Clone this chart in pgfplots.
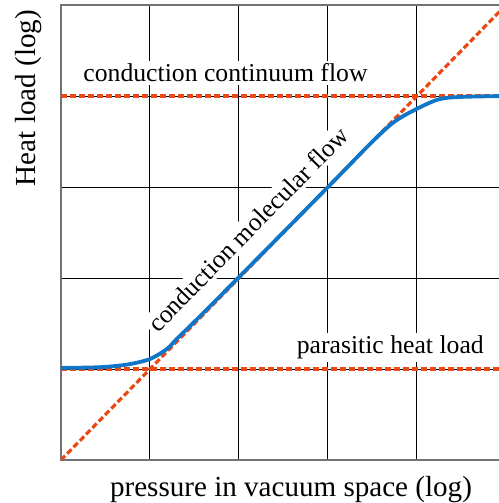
\documentclass[border=0pt]{standalone}
\usepackage{fontspec}
\setmainfont{Liberation Serif}
\usepackage{pgfplots}
\pgfplotsset{compat=1.18}
\definecolor{myorange}{RGB}{235,72,20}
\definecolor{myblue}{RGB}{16,118,200}
\begin{document}
\begin{tikzpicture}[x=1bp,y=1bp]
\begin{axis}[
 at={(30.5bp,21.5bp)}, anchor=south west,
 width=222.5bp, height=227.5bp, scale only axis,
 xmin=0,xmax=5,ymin=0,ymax=5,
 xtick={1,2,3,4}, ytick={1,2,3,4},
 xticklabels={}, yticklabels={},
 major tick length=0pt,
 grid=major, grid style={black, line width=0.5bp},
 axis line style={black!55, line width=0.8bp},
 clip=true,
]
\node[anchor=base, fill=white, inner sep=1.5bp, font=\fontsize{12.9}{15}\selectfont] at (axis cs:1.848,4.154) {conduction continuum flow};
\node[anchor=base, fill=white, inner sep=1.5bp, font=\fontsize{12.9}{15}\selectfont] at (axis cs:3.70,1.165) {parasitic heat load};
\node[anchor=center, fill=white, inner sep=1.5bp, rotate=45.6, font=\fontsize{12.8}{15}\selectfont] at (axis cs:2.10,2.535) {conduction molecular flow};
\addplot[myorange, line width=1.6bp, dash pattern=on 3bp off 1.5bp] coordinates {(0,0) (5,5)};
\addplot[myorange, line width=1.6bp, dash pattern=on 3bp off 1.5bp] coordinates {(0,1) (5,1)};
\addplot[myorange, line width=1.6bp, dash pattern=on 3bp off 1.5bp] coordinates {(0,4) (5,4)};
\addplot[myblue, line width=1.9bp, smooth, tension=0.5] coordinates {
(0,1.012) (0.44,1.02) (0.75,1.05) (1,1.11) (1.19,1.22) (1.3,1.33) (1.5,1.52) (2,2.01) (3,3.0) (3.5,3.5) (3.75,3.72) (4,3.86) (4.25,3.965) (4.5,3.99) (5,4.0)};
\end{axis}
\node[anchor=base, font=\fontsize{14.6}{17}\selectfont] at (145.5bp,3.5bp) {pressure in vacuum space (log)};
\node[anchor=base, rotate=90, font=\fontsize{14.6}{17}\selectfont] at (17.5bp,202.5bp) {Heat load (log)};
\pgfresetboundingbox
\useasboundingbox (0,0) rectangle (249.5bp,251.5bp);
\end{tikzpicture}
\end{document}
